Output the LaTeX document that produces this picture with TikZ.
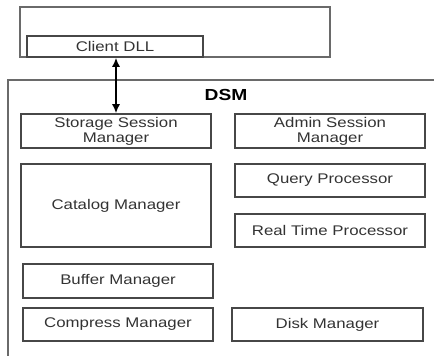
\documentclass[tikz,border=0pt]{standalone}
\usepackage{fontspec}
\setmainfont{Liberation Sans}[FakeStretch=1.2]
\usetikzlibrary{arrows.meta}
\definecolor{txt}{HTML}{333333}
\definecolor{edge}{HTML}{474747}
\definecolor{outeredge}{HTML}{6A6A6A}
\tikzset{
  box/.style={draw=edge, line width=1.7pt, fill=white, inner sep=0pt, align=center,
    text=txt, font=\fontsize{14}{15}\selectfont, minimum width=190pt},
  outerbox/.style={draw=outeredge, line width=1.7pt, inner sep=0pt},
  link/.style={draw=black, line width=1.3pt, {Latex[length=9pt,width=8pt]}-{Latex[length=9pt,width=8pt]}},
}
\begin{document}
\begin{tikzpicture}[x=1pt,y=-1pt]
\useasboundingbox (0,0) rectangle (434,356);
% application box
\node[outerbox, minimum width=310pt, minimum height=50pt] (app) at (175,32) {};
\node[box, minimum width=176pt, minimum height=21pt] (client) at (115,46.5) {Client DLL};
% DSM container
\coordinate (dsmbl) at (8,358);
\coordinate (dsmtr) at (436,80);
\draw[outeredge, line width=1.7pt] (dsmbl) |- (dsmtr);
\node[text=black, font=\fontsize{16}{16}\selectfont\bfseries] (dsm) at (226,95) {DSM};
% components
\node[box, minimum height=34pt] (ssm) at (116,131) {Storage Session\\Manager};
\node[box, minimum height=34pt] (asm) at (330,131) {Admin Session\\Manager};
\node[box, minimum height=83pt] (cat) at (116,205.5) {Catalog Manager};
\node[box, minimum height=33pt] (qp) at (330,180.5) {Query Processor};
\node[box, minimum height=33pt] (rtp) at (330,230.5) {Real Time Processor};
\node[box, minimum height=34pt] (buf) at (118,281) {Buffer Manager};
\node[box, minimum height=33pt] (cmp) at (118,324.5) {Compress Manager};
\node[box, minimum height=33pt, minimum width=191pt] (disk) at (327.5,324.5) {Disk Manager};
% connector
\draw[link] (ssm.north |- client.south) -- (ssm.north);
\end{tikzpicture}
\end{document}
